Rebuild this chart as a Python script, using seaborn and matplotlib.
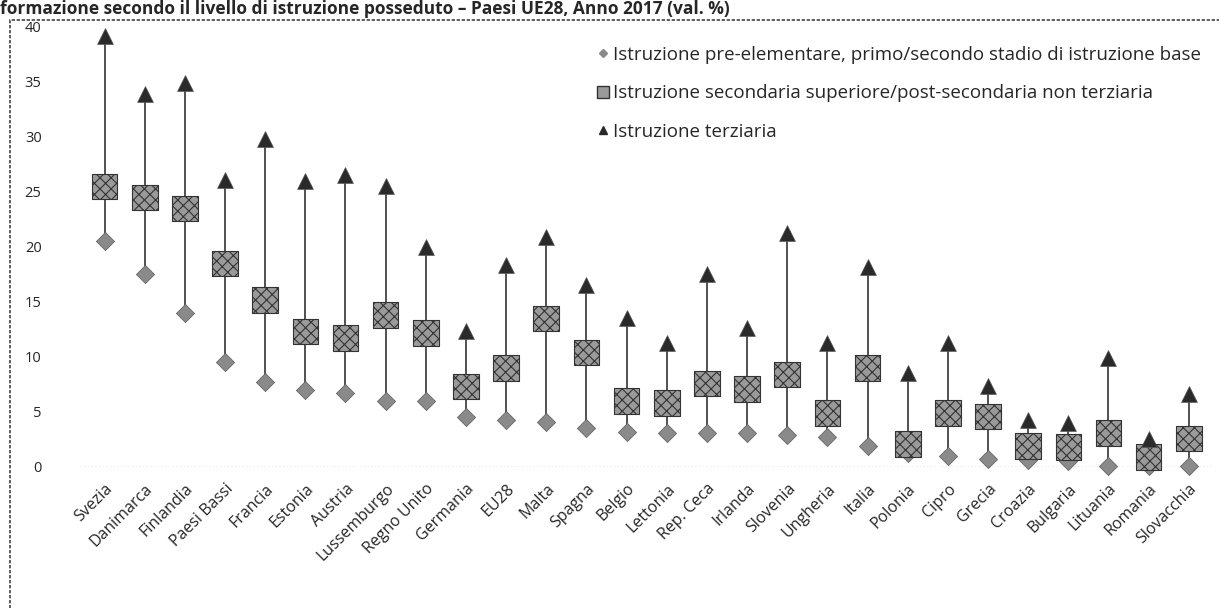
import numpy as np
import pandas as pd
import matplotlib.pyplot as plt
from matplotlib.lines import Line2D
from matplotlib.patches import Rectangle
import seaborn as sns

paesi = ['Svezia', 'Danimarca', 'Finlandia', 'Paesi Bassi', 'Francia', 'Estonia', 'Austria',
         'Lussemburgo', 'Regno Unito', 'Germania', 'EU28', 'Malta', 'Spagna', 'Belgio',
         'Lettonia', 'Rep. Ceca', 'Irlanda', 'Slovenia', 'Ungheria', 'Italia', 'Polonia',
         'Cipro', 'Grecia', 'Croazia', 'Bulgaria', 'Lituania', 'Romania', 'Slovacchia']
base = [20.5, 17.5, 14.0, 9.5, 7.7, 7.0, 6.7, 6.0, 6.0, 4.5, 4.3, 4.1, 3.5, 3.2,
        3.1, 3.1, 3.1, 2.9, 2.7, 1.9, 1.3, 1.0, 0.7, 0.6, 0.5, 0.1, 0.1, 0.1]
secondaria = [25.5, 24.5, 23.5, 18.5, 15.2, 12.3, 11.7, 13.8, 12.2, 7.3, 9.0, 13.5, 10.4, 6.0,
              5.8, 7.6, 7.1, 8.4, 4.9, 9.0, 2.1, 4.9, 4.6, 1.9, 1.8, 3.1, 0.9, 2.6]
terziaria = [39.2, 33.9, 34.9, 26.1, 29.8, 26.0, 26.5, 25.5, 20.0, 12.4, 18.4, 20.9, 16.5, 13.5,
             11.3, 17.5, 12.6, 21.3, 11.3, 18.2, 8.5, 11.3, 7.4, 4.3, 4.0, 9.9, 2.5, 6.6]

lab_base = 'Istruzione pre-elementare, primo/secondo stadio di istruzione base'
lab_sec = 'Istruzione secondaria superiore/post-secondaria non terziaria'
lab_ter = 'Istruzione terziaria'
titolo = 'formazione secondo il livello di istruzione posseduto \u2013 Paesi UE28, Anno 2017 (val. %)'

df = pd.DataFrame({'paese': paesi, 'base': base, 'sec': secondaria, 'ter': terziaria})
df['x'] = np.arange(len(df))

sns.set_style('white')
plt.rcParams['font.family'] = ['Open Sans', 'DejaVu Sans']
plt.rcParams['hatch.linewidth'] = 0.8

fig = plt.figure(figsize=(12.19, 6.08), dpi=100)
ax = fig.add_axes([0.066, 0.232, 0.929, 0.7237])

# linee min-max
ax.vlines(df['x'], df['base'], df['ter'], color='#222222', lw=1.1, zorder=1)

sns.scatterplot(data=df, x='x', y='base', marker='D', s=85, color='#8a8a8a',
                edgecolor='#666666', linewidth=0.6, ax=ax, zorder=3, clip_on=False)
sns.scatterplot(data=df, x='x', y='sec', marker='s', s=340, color='#9a9a9a',
                edgecolor='#333333', linewidth=0.8, ax=ax, zorder=4, clip_on=False)
sns.scatterplot(data=df, x='x', y='ter', marker='^', s=130, color='#2a2a2a',
                edgecolor='#555555', linewidth=0.5, ax=ax, zorder=4, clip_on=False)
ax.collections[2].set_hatch('xxx')

ax.axhline(0, color='#999999', lw=1, ls=':', zorder=0)
ax.set_xlim(-0.6, len(df) - 0.4)
ax.set_ylim(0, 40)
ax.set_yticks(range(0, 41, 5))
ax.set_xticks(df['x'])
ax.set_xticklabels(df['paese'], rotation=45, ha='right', rotation_mode='anchor', fontsize=11.5)
ax.tick_params(axis='y', labelsize=10.5, pad=28, length=0)
ax.tick_params(axis='x', length=0, pad=10)
ax.set_xlabel('')
ax.set_ylabel('')
for s in ax.spines.values():
    s.set_visible(False)

handles = [
    Line2D([], [], marker='D', ls='', color='#8a8a8a', markersize=4),
    Line2D([], [], marker='s', ls='', color='#9a9a9a', markeredgecolor='#333333', markersize=8),
    Line2D([], [], marker='^', ls='', color='#2a2a2a', markersize=6),
]
leg = ax.legend(handles, [lab_base, lab_sec, lab_ter], loc='upper left',
                bbox_to_anchor=(0.438, 0.995), frameon=False, fontsize=13.5,
                labelspacing=1.08, handletextpad=0.05, handlelength=1.0)

fig.patches.append(Rectangle((10 / 1219, -0.1), 1.2, 1 - 20 / 608 + 0.1,
                             transform=fig.transFigure, fill=False,
                             edgecolor='#444444', lw=1.2, ls=(0, (2, 1))))
fig.text(0.0, 1.0, titolo, fontsize=12.5, fontweight='bold', ha='left', va='top')

fig.savefig('out.png', dpi=100)
